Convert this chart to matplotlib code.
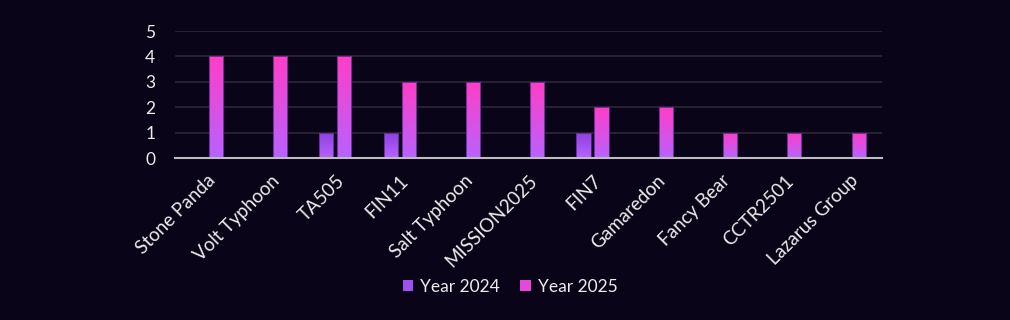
import numpy as np
import matplotlib
matplotlib.use("Agg")
import matplotlib.pyplot as plt
from matplotlib.patches import Rectangle
from matplotlib.colors import LinearSegmentedColormap

groups = ["Stone Panda", "Volt Typhoon", "TA505", "FIN11", "Salt Typhoon",
          "MISSION2025", "FIN7", "Gamaredon", "Fancy Bear", "CCTR2501", "Lazarus Group"]
y2024 = [0, 0, 1, 1, 0, 0, 1, 0, 0, 0, 0]
y2025 = [4, 4, 4, 3, 3, 3, 2, 2, 1, 1, 1]

bg = "#0a0418"
txt = "#ececec"
plt.rcParams['font.family'] = ['Lato', 'DejaVu Sans']

# gradients: bottom -> top
cm24 = LinearSegmentedColormap.from_list("c24", ["#b862ff", "#8c3fe0"])
cm25 = LinearSegmentedColormap.from_list("c25", ["#b862ff", "#ff3ec6"])

fig = plt.figure(figsize=(10.1, 3.2), dpi=100, facecolor=bg)
ax = fig.add_axes([0.173, 0.506, 0.700, 0.397])
ax.set_facecolor(bg)

x = np.arange(len(groups))
w = 0.22
off = 0.14
grad = np.linspace(0, 1, 256).reshape(-1, 1)

def gbar(xc, h, cmap):
    if h <= 0:
        return
    r = Rectangle((xc - w / 2, 0), w, h, facecolor="none", edgecolor="#5a2a8a", lw=0.6, zorder=3)
    ax.add_patch(r)
    im = ax.imshow(grad, cmap=cmap, origin="lower", aspect="auto",
                   extent=(xc - w / 2, xc + w / 2, 0, h), zorder=2)
    im.set_clip_path(r)

for i in range(len(groups)):
    gbar(x[i] - off, y2024[i], cm24)
    gbar(x[i] + off, y2025[i], cm25)

ax.set_xlim(-0.5, len(groups) - 0.5)
ax.set_ylim(0, 5)
ax.set_yticks(range(6))
ax.set_xticks(x)
ax.set_xticklabels(groups, rotation=45, ha="right", rotation_mode="anchor")
ax.tick_params(colors=txt, length=0)
ax.tick_params(axis="y", pad=14, labelsize=12.5)
ax.tick_params(axis="x", pad=10, labelsize=13.5)
for t in ax.get_xticklabels() + ax.get_yticklabels():
    t.set_color(txt)
ax.grid(axis="y", color="#2c2738", lw=1.2, zorder=0)
ax.set_axisbelow(True)
for s in ["top", "right", "left"]:
    ax.spines[s].set_visible(False)
ax.spines["bottom"].set_color("#bdbdbd")
ax.spines["bottom"].set_linewidth(1.5)
ax.spines["bottom"].set_zorder(4)

h1 = Rectangle((0, 0), 1, 1, facecolor="#a050f0")
h2 = Rectangle((0, 0), 1, 1, facecolor="#e848d8")
fig.legend([h1, h2], ["Year 2024", "Year 2025"], loc="center", bbox_to_anchor=(0.505, 0.103),
           ncol=2, frameon=False, fontsize=12.5, labelcolor=txt, handlelength=0.6,
           handleheight=0.6, handletextpad=0.4, columnspacing=1.2)

fig.savefig("out.png", dpi=100, facecolor=bg)
